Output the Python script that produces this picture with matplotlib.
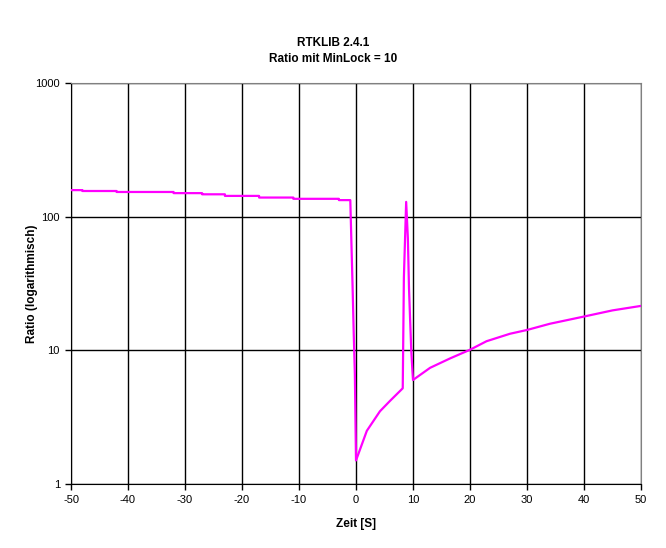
import matplotlib
matplotlib.use("Agg")
import matplotlib.pyplot as plt
from matplotlib.ticker import FixedLocator, NullLocator, FixedFormatter

plt.rcParams['font.family'] = ['Liberation Sans', 'DejaVu Sans']
plt.rcParams['axes.unicode_minus'] = False

# values (time in s, ratio)
zeit = [-50, -48, -48, -42, -42, -32, -32, -27, -27, -23, -23, -17, -17, -11, -11, -3, -3, -1,
        -0.8, -0.6, -0.4, -0.2, 0.0,
        1.9, 4.2, 6.0, 8.2, 8.4, 8.8, 9.1, 9.3, 9.5, 9.7, 9.9, 10.0,
        13, 16.5, 20, 22.9, 27, 30, 34, 40, 45, 50]
ratio = [158, 158, 155.6, 155.6, 153, 153, 150, 150, 147, 147, 143, 143, 139, 139, 136, 136, 133, 133,
         63, 30, 13.5, 6.7, 1.5,
         2.5, 3.5, 4.2, 5.2, 35, 129, 69, 29, 16.7, 9.9, 7.0, 6.0,
         7.4, 8.7, 10.1, 11.7, 13.3, 14.2, 15.8, 17.9, 19.9, 21.5]

x_ticks = [-50, -40, -30, -20, -10, 0, 10, 20, 30, 40, 50]
y_ticks = [1, 10, 100, 1000]
y_labels = ["1", "10", "100", "1000"]

fig = plt.figure(figsize=(6.66, 5.48), dpi=100)
ax = fig.add_axes([71/666, 64/548, 570/666, 401/548])

ax.plot(zeit, ratio, color="#FF00FF", lw=1.6, zorder=3)

ax.set_yscale("log")
ax.set_xlim(-50, 50)
ax.set_ylim(1, 1000)
ax.xaxis.set_major_locator(FixedLocator(x_ticks))
ax.yaxis.set_major_locator(FixedLocator(y_ticks))
ax.yaxis.set_major_formatter(FixedFormatter(y_labels))
ax.yaxis.set_minor_locator(NullLocator())
ax.grid(True, color="black", lw=1)
ax.set_axisbelow(True)

for s in ["top", "right"]:
    ax.spines[s].set_color("#808080")
for s in ["left", "bottom"]:
    ax.spines[s].set_color("black")
ax.tick_params(direction="out", length=4, width=1, labelsize=8, pad=4)

ax.set_xlabel("Zeit [S]", fontsize=8.5, fontweight="bold", labelpad=9)
ax.set_ylabel("Ratio (logarithmisch)", fontsize=8.5, fontweight="bold", labelpad=-2)
fig.text(0.5, 1 - 51/548, "RTKLIB 2.4.1\nRatio mit MinLock = 10", ha="center", va="center",
         fontsize=8.5, fontweight="bold", linespacing=1.5)

fig.savefig("out.png", dpi=100)
